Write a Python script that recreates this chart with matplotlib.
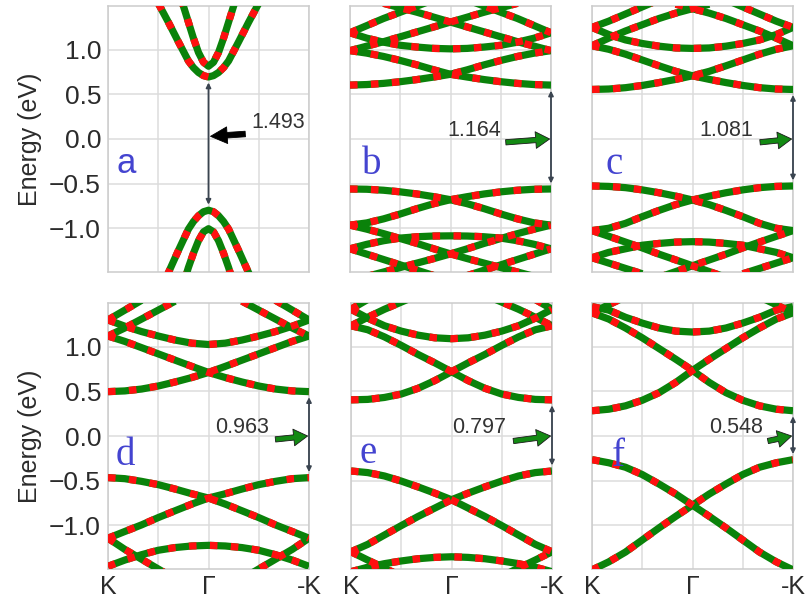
import numpy as np
import matplotlib.pyplot as plt

plt.rcParams['font.family'] = ['Liberation Sans', 'DejaVu Sans']

nan = np.nan

# k path K -> Gamma -> -K
k = np.linspace(0, 1, 13)
ka = np.array([0.25, 0.30, 0.35, 0.40, 0.425, 0.45, 0.475, 0.50,
               0.525, 0.55, 0.575, 0.60, 0.65, 0.70, 0.75])

# (a) bands around Gamma
a_c1 = [1.52, 1.31, 1.09, 0.875, 0.80, 0.745, 0.71, 0.695, 0.71, 0.745, 0.80, 0.875, 1.09, 1.31, 1.52]
a_c2 = [nan, nan, 1.67, 1.31, 1.13, 0.97, 0.86, 0.815, 0.86, 0.97, 1.13, 1.31, 1.67, nan, nan]
a_v1 = [-1.75, -1.50, -1.25, -1.01, -0.925, -0.86, -0.815, -0.798, -0.815, -0.86, -0.925, -1.01, -1.25, -1.50, -1.75]
a_v2 = [nan, nan, -1.8, -1.44, -1.28, -1.14, -1.04, -1.005, -1.04, -1.14, -1.28, -1.44, -1.8, nan, nan]

# (b)
b_c1 = [0.604, 0.610, 0.623, 0.642, 0.666, 0.694, 0.725, 0.775, 0.83, 0.88, 0.925, 0.962, 0.99]
b_c2 = [0.99, 1.04, 1.09, 1.145, 1.20, 1.255, 1.31, 1.365, 1.42, 1.47, 1.52, nan, nan]
b_c3 = [1.19, 1.27, 1.35, 1.42, 1.49, 1.56, nan, nan, nan, nan, nan, nan, nan]
b_u = [1.19, 1.13, 1.085, 1.05, 1.03, 1.015, 1.01, 1.015, 1.03, 1.05, 1.085, 1.13, 1.19]
b_v1 = [-0.56, -0.563, -0.574, -0.592, -0.616, -0.646, -0.68, -0.725, -0.78, -0.84, -0.895, -0.94, -0.965]
b_v2 = [-0.965, -1.01, -1.06, -1.115, -1.17, -1.23, -1.287, -1.34, -1.39, -1.44, -1.49, -1.54, nan]
b_v3 = [-1.23, -1.29, -1.35, -1.41, -1.47, -1.53, nan, nan, nan, nan, nan, nan, nan]
b_d = [-1.23, -1.18, -1.14, -1.11, -1.095, -1.087, -1.085, -1.087, -1.095, -1.11, -1.14, -1.18, -1.23]

# (c)
c_c1 = [0.555, 0.56, 0.575, 0.60, 0.632, 0.668, 0.708, 0.758, 0.82, 0.885, 0.95, 1.005, 1.045]
c_c2 = [1.045, 1.13, 1.21, 1.28, 1.35, 1.41, 1.46, 1.51, nan, nan, nan, nan, nan]
c_c3 = [1.25, 1.32, 1.40, 1.48, 1.56, nan, nan, nan, nan, nan, nan, nan, nan]
c_u = [1.25, 1.17, 1.11, 1.07, 1.04, 1.02, 1.015, 1.02, 1.04, 1.07, 1.11, 1.17, 1.25]
c_v1 = [-0.526, -0.531, -0.545, -0.57, -0.602, -0.64, -0.683, -0.735, -0.80, -0.87, -0.945, -1.0, -1.026]
c_v2 = [-1.026, -1.09, -1.155, -1.22, -1.29, -1.355, -1.42, -1.485, -1.55, nan, nan, nan, nan]
c_v3 = [-1.33, -1.39, -1.45, -1.51, nan, nan, nan, nan, nan, nan, nan, nan, nan]
c_d = [-1.33, -1.27, -1.23, -1.19, -1.17, -1.155, -1.15, -1.155, -1.17, -1.19, -1.23, -1.27, -1.33]

# (d)
d_c1 = [0.497, 0.505, 0.526, 0.56, 0.605, 0.655, 0.712, 0.78, 0.85, 0.92, 0.99, 1.06, 1.12]
d_c2 = [1.12, 1.21, 1.31, 1.41, 1.51, nan, nan, nan, nan, nan, nan, nan, nan]
d_c3 = [1.30, 1.41, 1.52, nan, nan, nan, nan, nan, nan, nan, nan, nan, nan]
d_u = [1.30, 1.23, 1.17, 1.12, 1.075, 1.04, 1.025, 1.04, 1.075, 1.12, 1.17, 1.23, 1.30]
d_v1 = [-0.466, -0.478, -0.508, -0.545, -0.594, -0.647, -0.695, -0.763, -0.838, -0.914, -0.996, -1.07, -1.145]
d_v2 = [-1.145, -1.27, -1.38, -1.49, -1.6, nan, nan, nan, nan, nan, nan, nan, nan]
d_d = [-1.46, -1.39, -1.33, -1.28, -1.25, -1.232, -1.225, -1.232, -1.25, -1.28, -1.33, -1.39, -1.46]

# (e)
e_c1 = [0.405, 0.41, 0.432, 0.47, 0.534, 0.62, 0.72, 0.82, 0.914, 1.015, 1.11, 1.19, 1.235]
e_c2 = [1.235, 1.33, 1.42, 1.50, 1.58, nan, nan, nan, nan, nan, nan, nan, nan]
e_c3 = [1.42, 1.53, nan, nan, nan, nan, nan, nan, nan, nan, nan, nan, nan]
e_u = [1.42, 1.32, 1.235, 1.175, 1.13, 1.10, 1.09, 1.10, 1.13, 1.175, 1.235, 1.32, 1.42]
e_v1 = [-0.392, -0.41, -0.448, -0.505, -0.57, -0.64, -0.714, -0.808, -0.902, -1.004, -1.109, -1.214, -1.297]
e_v2 = [-1.297, -1.39, -1.48, -1.57, nan, nan, nan, nan, nan, nan, nan, nan, nan]
e_d = [-1.52, -1.47, -1.43, -1.40, -1.375, -1.36, -1.353, -1.36, -1.375, -1.40, -1.43, -1.47, -1.52]

# (f)
f_c1 = [0.283, 0.30, 0.338, 0.40, 0.485, 0.60, 0.735, 0.86, 0.98, 1.10, 1.21, 1.31, 1.38]
f_c2 = [1.38, 1.47, 1.56, nan, nan, nan, nan, nan, nan, nan, nan, nan, nan]
f_u = [1.45, 1.41, 1.33, 1.265, 1.21, 1.175, 1.165, 1.175, 1.21, 1.265, 1.33, 1.41, 1.45]
f_v1 = [-0.265, -0.30, -0.35, -0.432, -0.538, -0.65, -0.775, -0.90, -1.03, -1.165, -1.30, -1.41, -1.50]

gap_labels = ['1.493', '1.164', '1.081', '0.963', '0.797', '0.548']
panel_letters = ['a', 'b', 'c', 'd', 'e', 'f']
k_labels = ['K', '\u0393', '-K']

fig = plt.figure(figsize=(8.05, 6.03), dpi=100)

W, H = 201 / 805, 266 / 603
lefts_top = [108 / 805, 350 / 805, 592 / 805]
lefts_bot = [108 / 805, 351 / 805, 592 / 805]
bot_top, bot_bot = 1 - 272 / 603, 1 - 569 / 603

axes = [fig.add_axes([l, bot_top, W, H]) for l in lefts_top] + \
       [fig.add_axes([l, bot_bot, W, H]) for l in lefts_bot]

txt_col = '#2b2b2b'


def draw(ax, kk, bands, mirrored=(), sym=()):
    lines = [np.asarray(b) for b in bands] + [np.asarray(b) for b in sym]
    for b in mirrored:
        b = np.asarray(b)
        lines += [b, b[::-1]]
    for y in lines:
        ax.plot(kk, y, color='#0a820a', lw=5.2, solid_capstyle='butt', zorder=3)
    for y in lines:
        ax.plot(kk, y, color='#ff1010', lw=5.2, dashes=(1.05, 1.85),
                dash_capstyle='butt', zorder=4)


for i, ax in enumerate(axes):
    ax.set_xlim(0, 1)
    ax.set_ylim(-1.49, 1.49)
    ax.set_xticks([0, 0.5, 1])
    ax.set_xticks([0.25, 0.75], minor=True)
    ax.set_yticks([-1.0, -0.5, 0.0, 0.5, 1.0])
    ax.grid(True, which='both', color='#dcdcdc', lw=1.1)
    ax.set_axisbelow(True)
    for s in ax.spines.values():
        s.set_color('#cccccc')
        s.set_linewidth(1.1)
    ax.tick_params(which='both', length=0, labelsize=19, labelcolor=txt_col)
    ax.tick_params(axis='y', pad=5)
    ax.tick_params(axis='x', pad=4, labelsize=18)
    if i < 3:
        ax.tick_params(labelbottom=False)
    else:
        ax.set_xticklabels(k_labels)
    if i % 3 == 0:
        ax.set_ylabel('Energy (eV)', fontsize=18, color=txt_col, labelpad=5)
    else:
        ax.tick_params(labelleft=False)

ax_a, ax_b, ax_c, ax_d, ax_e, ax_f = axes

draw(ax_a, ka, [a_c1, a_c2, a_v1, a_v2])
draw(ax_b, k, [], mirrored=[b_c1, b_c2, b_c3, b_v1, b_v2, b_v3], sym=[b_u, b_d])
draw(ax_c, k, [], mirrored=[c_c1, c_c2, c_c3, c_v1, c_v2, c_v3], sym=[c_u, c_d])
draw(ax_d, k, [], mirrored=[d_c1, d_c2, d_c3, d_v1, d_v2], sym=[d_u, d_d])
draw(ax_e, k, [], mirrored=[e_c1, e_c2, e_c3, e_v1, e_v2], sym=[e_u, e_d])
draw(ax_f, k, [], mirrored=[f_c1, f_c2, f_v1], sym=[f_u])

# band gap: double arrow between band edges
edges = [(0.5, a_c1[7], a_v1[7]),
         (1.0, b_c1[0], b_v1[0]),
         (1.0, c_c1[0], c_v1[0]),
         (1.0, d_c1[0], d_v1[0]),
         (1.0, e_c1[0], e_v1[0]),
         (1.0, f_c1[0], f_v1[0])]
for ax, (x, cb, vb) in zip(axes, edges):
    ax.annotate('', xy=(x, vb), xytext=(x, cb),
                arrowprops=dict(arrowstyle='<|-|>', color='#3a4450', lw=1.3,
                                mutation_scale=7, shrinkA=4, shrinkB=4),
                annotation_clip=False, zorder=5)

# gap value with pointer arrow
ax_a.text(0.715, 0.19, gap_labels[0], ha='left', va='center', fontsize=15.5, color='#333333')
ax_a.annotate('', xy=(0.51, 0.03), xytext=(0.683, 0.056),
              arrowprops=dict(facecolor='black', edgecolor='black', width=4,
                              headwidth=12, headlength=12, shrink=0, lw=0.6),
              zorder=6)

text_right = [0.75, 0.80, 0.80, 0.772, 0.85]
tails = [(0.775, -0.037), (0.836, -0.037), (0.833, -0.038), (0.808, -0.056), (0.875, -0.056)]
for ax, lab, xr, tail in zip(axes[1:], gap_labels[1:], text_right, tails):
    ax.text(xr, 0.09, lab, ha='right', va='center', fontsize=15.5, color='#333333')
    ax.annotate('', xy=(0.993, 0.0), xytext=tail,
                arrowprops=dict(facecolor='#138a13', edgecolor='#1a1a1a', width=3.8,
                                headwidth=12, headlength=10, shrink=0, lw=0.6),
                annotation_clip=False, zorder=6)

# panel letters
letter_pos = [(0.042, -0.38), (0.058, -0.39), (0.067, -0.39),
              (0.04, -0.32), (0.042, -0.30), (0.10, -0.34)]
for i, (ax, let, (x, y)) in enumerate(zip(axes, panel_letters, letter_pos)):
    if i == 0:
        ax.text(x, y, let, fontsize=25, color='#4444d0', family='Liberation Sans',
                ha='left', va='baseline', zorder=7)
    else:
        ax.text(x, y, let, fontsize=28, color='#4444d0', family='Liberation Serif',
                ha='left', va='baseline', zorder=7)

fig.savefig('out.png', dpi=100)
